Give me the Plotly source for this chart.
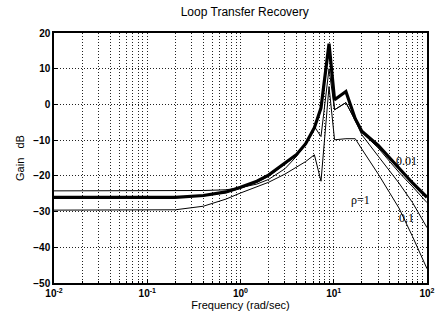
import math
import plotly.graph_objects as go

freq = [0.01, 0.1, 0.2, 0.4, 0.7, 1.0, 1.5, 2.0, 3.0, 4.0, 5.0, 6.2, 7.3, 8.9,
        10.2, 13.5, 17.0, 20.0, 30.0, 50.0, 70.0, 100.0]

gain_target = [-26, -26, -26, -25.5, -24.5, -23.2, -21.5, -19.8, -16.5, -14, -11, -6.5,
               -1, 17, 1.3, 3.6, -4, -7.5, -11.5, -18, -22, -26]
gain_rho001 = [-26, -26, -26, -25.6, -24.7, -23.5, -21.8, -20.1, -16.8, -14.3, -11.3, -6.8,
               -1.5, 16, -1.5, 0.5, -4.5, -7.8, -12.2, -19, -23, -27.5]
gain_rho01 = [-24.2, -24.2, -24.2, -24.1, -23.9, -23.3, -22.3, -21, -18, -14.5, -10.8, -6.2,
              -9, 10, -1.5, 0.5, -4.5, -8.5, -14.5, -22, -27.5, -34.5]
gain_rho1 = [-29.6, -29.6, -29.5, -28.5, -26.5, -24.8, -23, -21.8, -19.5, -17.5, -16, -14.1,
             -21.5, 5, -9.9, -9.6, -9.6, -12.5, -19.5, -29, -37, -46]

x_ticks = [0.01, 0.1, 1, 10, 100]
x_ticktext = ["10<sup>-2</sup>", "10<sup>-1</sup>", "10<sup>0</sup>", "10<sup>1</sup>", "10<sup>2</sup>"]
x_minor = [m * d for d in [0.01, 0.1, 1, 10] for m in range(2, 10)]
y_ticks = [20, 10, 0, -10, -20, -30, -40, -50]

labels = ["0.01", "\u03c1=1", "0.1"]
label_x = [60, 19.5, 60]
label_y = [-15.8, -26.8, -31.7]

fig = go.Figure()
for g, w in [(gain_rho1, 1), (gain_rho01, 1), (gain_rho001, 1), (gain_target, 3.2)]:
    fig.add_trace(go.Scatter(x=freq, y=g, mode="lines",
                             line=dict(color="black", width=w), showlegend=False))

for t, lx, ly in zip(labels, label_x, label_y):
    fig.add_annotation(x=math.log10(lx), y=ly, xref="x", yref="y", text=t, showarrow=False,
                       font=dict(family="Liberation Serif", size=12, color="black"))

tick_font = dict(family="Liberation Sans", size=10, color="black", weight="bold")
grid_col = "#222"
grid_dash = "1px,2px"

fig.update_layout(
    width=437, height=322,
    margin=dict(l=54, r=2, t=33, b=39),
    paper_bgcolor="white", plot_bgcolor="white",
    title=dict(text="Loop Transfer Recovery", x=0.56, xanchor="center", y=0.975, yanchor="top",
               font=dict(family="Liberation Sans", size=12, color="black")),
    xaxis=dict(type="log", range=[-2, 2], tickmode="array", tickvals=x_ticks, ticktext=x_ticktext,
               tickfont=tick_font, ticklabeloverflow="allow",
               showline=True, linecolor="black", linewidth=1.5,
               mirror=True, ticks="inside", ticklen=4, tickcolor="black",
               showgrid=True, gridcolor=grid_col, griddash=grid_dash, gridwidth=1,
               minor=dict(tickmode="array", tickvals=x_minor, showgrid=True,
                          gridcolor=grid_col, griddash=grid_dash, gridwidth=1,
                          ticks="inside", ticklen=2, tickcolor="black"),
               title=dict(text="Frequency (rad/sec)", standoff=4,
                          font=dict(family="Liberation Sans", size=11, color="black")),
               zeroline=False),
    yaxis=dict(range=[-50, 20], tickmode="array", tickvals=y_ticks, tickfont=tick_font,
               showline=True, linecolor="black", linewidth=1.5, mirror=True,
               ticks="inside", ticklen=4, tickcolor="black",
               showgrid=True, gridcolor=grid_col, griddash=grid_dash, gridwidth=1,
               title=dict(text="Gain   dB", standoff=6,
                          font=dict(family="Liberation Sans", size=11, color="black")),
               zeroline=False),
)

fig.write_html("out.html", config={"displayModeBar": False},
               post_script="document.body.style.margin='0';document.body.style.overflow='hidden';")
